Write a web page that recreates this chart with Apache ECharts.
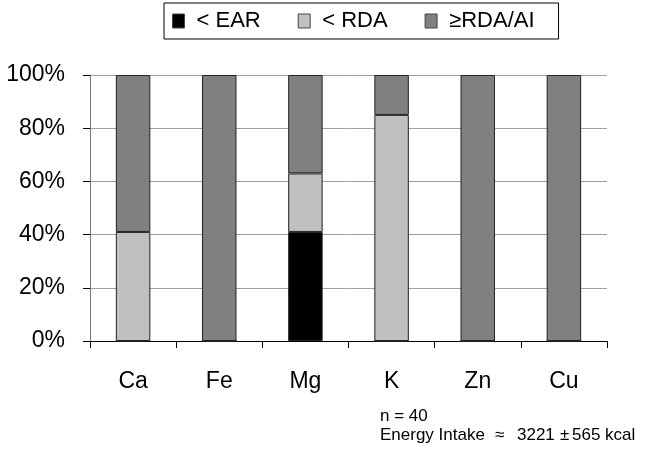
<!DOCTYPE html>
<html>
<head>
<meta charset="utf-8">
<script src="https://cdn.jsdelivr.net/npm/echarts@6/dist/echarts.min.js"></script>
<style>
  html, body { margin: 0; padding: 0; background: #fff; }
  #chart { width: 655px; height: 450px; }
</style>
</head>
<body>
<div id="chart"></div>
<script>
// Minerals and share of subjects (%) in each intake band
const minerals = ['Ca', 'Fe', 'Mg', 'K', 'Zn', 'Cu'];
const belowEAR = [0, 0, 41, 0, 0, 0];
const belowRDA = [41, 0, 22, 85, 0, 0];
const atOrAboveRDA = [59, 100, 37, 15, 100, 100];
const yTicks = [0, 20, 40, 60, 80, 100];
const seriesNames = ['< EAR', '< RDA', '\u2265RDA/AI'];
const seriesColors = ['#000000', '#c0c0c0', '#808080'];

const font = 'Liberation Sans, Arial, sans-serif';
const chart = echarts.init(document.getElementById('chart'), null, { renderer: 'canvas' });

const seriesData = [belowEAR, belowRDA, atOrAboveRDA];
const series = seriesNames.map((name, i) => ({
  name,
  type: 'bar',
  stack: 'total',
  barWidth: '40%',
  data: seriesData[i],
  itemStyle: { color: seriesColors[i], borderColor: '#222', borderWidth: 1 },
  emphasis: { disabled: true },
  animation: false
}));

const noteStyle = { fontFamily: font, fontSize: 17, fill: '#000' };

chart.setOption({
  animation: false,
  legend: {
    top: 3,
    left: 164,
    padding: [7, 24, 7, 8],
    borderColor: '#000',
    borderWidth: 1,
    itemWidth: 12,
    itemHeight: 14,
    itemGap: 37,
    icon: 'rect',
    textStyle: { fontFamily: font, fontSize: 22, color: '#000', padding: [0, 0, 0, 7] },
    itemStyle: { borderColor: '#444', borderWidth: 1 },
    data: seriesNames
  },
  grid: { left: 90, right: 48, top: 75, bottom: 109 },
  xAxis: {
    type: 'category',
    data: minerals,
    axisLine: { lineStyle: { color: '#000', width: 1 } },
    axisTick: { show: true, length: 7, lineStyle: { color: '#000' } },
    axisLabel: { fontFamily: font, fontSize: 23, color: '#000', margin: 29 },
    splitLine: { show: false }
  },
  yAxis: {
    type: 'value',
    min: 0,
    max: 100,
    interval: 20,
    axisLine: { show: true, lineStyle: { color: '#777', width: 1 } },
    axisTick: { show: true, length: 7, lineStyle: { color: '#000' } },
    axisLabel: {
      fontFamily: font, fontSize: 23, color: '#000', margin: 25,
      formatter: v => (yTicks.includes(v) ? v + '%' : '')
    },
    splitLine: { show: true, lineStyle: { color: '#a0a0a0', width: 1 } }
  },
  graphic: [
    { type: 'text', left: 380, top: 408, style: Object.assign({ text: 'n = 40' }, noteStyle) },
    { type: 'text', left: 380, top: 427, style: Object.assign({ text: 'Energy Intake' }, noteStyle) },
    { type: 'text', left: 495, top: 427, style: Object.assign({ text: '\u2248' }, noteStyle) },
    { type: 'text', left: 517, top: 427, style: Object.assign({ text: '3221' }, noteStyle) },
    { type: 'text', left: 560, top: 427, style: Object.assign({ text: '\u00b1' }, noteStyle) },
    { type: 'text', left: 572, top: 427, style: Object.assign({ text: '565 kcal' }, noteStyle) }
  ],
  series
});
</script>
</body>
</html>
